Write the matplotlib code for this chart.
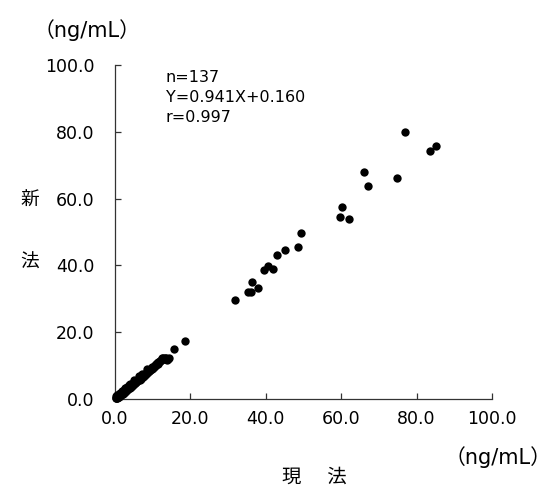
import matplotlib
matplotlib.use("Agg")
import matplotlib.pyplot as plt
from matplotlib.ticker import FixedLocator, FormatStrFormatter

plt.rcParams['font.family'] = ['DejaVu Sans', 'Noto Sans CJK JP']

# current method (x) vs new method (y), ng/mL
x_low = [0.2, 0.3, 0.4, 0.5, 0.5, 0.6, 0.7, 0.8, 0.9, 1.0,
         1.1, 1.2, 1.3, 1.4, 1.5, 1.6, 1.7, 1.8, 1.9, 2.0,
         2.1, 2.2, 2.4, 2.5, 2.6, 2.8, 2.9, 3.0, 3.1, 3.3,
         3.4, 3.5, 3.7, 3.8, 3.9, 4.0, 4.2, 4.3, 4.5, 4.6,
         4.8, 4.9, 5.0, 5.2, 5.3, 5.5, 5.6, 5.8, 5.9, 6.0,
         6.2, 6.3, 6.5, 6.6, 6.8, 6.9, 7.0, 7.2, 7.3, 7.5,
         7.6, 7.8, 7.9, 8.0, 8.2, 8.3, 8.5, 8.6, 8.8, 9.0,
         9.1, 9.3, 9.4, 9.6, 9.8, 9.9, 10.0, 10.2, 10.4, 10.5,
         10.7, 10.9, 11.0, 11.2, 11.4, 11.5, 11.7, 11.9, 12.0, 12.2,
         12.4, 12.6, 12.8, 13.0, 13.2, 13.4, 13.6, 13.8, 14.0, 14.3,
         0.3, 0.6, 1.0, 1.4, 1.8, 2.3, 2.7, 3.2, 3.6, 4.1,
         5.1, 6.4, 7.1, 8.4]
y_low = [0.3, 0.3, 0.5, 0.2, 0.6, 0.4, 0.7, 0.5, 0.8, 0.7,
         1.1, 0.9, 1.3, 1.1, 1.5, 1.2, 1.7, 1.4, 1.9, 1.6,
         2.0, 2.2, 1.9, 2.4, 2.2, 2.6, 2.4, 2.9, 2.6, 3.1,
         2.9, 3.3, 3.2, 3.6, 3.4, 3.8, 3.7, 4.1, 3.9, 4.4,
         4.2, 4.7, 4.4, 4.9, 4.8, 5.2, 5.0, 5.5, 5.3, 5.6,
         5.6, 6.0, 5.8, 6.3, 6.1, 6.6, 6.3, 6.8, 6.6, 7.0,
         6.9, 7.3, 7.2, 7.6, 7.5, 7.9, 7.8, 8.2, 8.0, 8.5,
         8.4, 8.8, 8.6, 9.1, 9.0, 9.5, 9.3, 9.7, 9.5, 10.1,
         9.9, 10.5, 10.3, 10.8, 10.6, 11.2, 11.0, 11.5, 11.3, 11.6,
         12.2, 11.9, 12.3, 12.0, 12.4, 11.9, 12.2, 11.6, 12.1, 12.3,
         0.8, 1.1, 1.5, 1.9, 2.4, 2.8, 3.2, 3.7, 4.1, 4.6,
         5.6, 6.9, 7.5, 8.9]
x_high = [15.6, 18.6,
          31.8, 35.3, 36.1, 36.3, 37.8, 39.5, 40.5, 42.0, 43.1, 45.1, 48.5, 49.3,
          59.7, 60.1, 62.2, 66.1, 67.0, 74.7, 77.0, 83.6, 85.1]
y_high = [15.1, 17.3,
          29.7, 32.0, 32.0, 34.9, 33.1, 38.7, 39.9, 39.0, 43.0, 44.7, 45.6, 49.8,
          54.4, 57.5, 53.8, 68.1, 63.7, 66.3, 79.9, 74.3, 75.7]

ticks = [0, 20, 40, 60, 80, 100]
stats_text = "n=137\nY=0.941X+0.160\nr=0.997"
unit = "（ng/mL）"

fig = plt.figure(figsize=(5.58, 4.91), dpi=100)
ax = fig.add_axes([0.2061, 0.1874, 0.6756, 0.6802])

ax.scatter(x_low + x_high, y_low + y_high, s=36, c='black',
           linewidths=0, clip_on=False, zorder=3)

ax.set_xlim(0, 100)
ax.set_ylim(0, 100)
ax.xaxis.set_major_locator(FixedLocator(ticks))
ax.yaxis.set_major_locator(FixedLocator(ticks))
ax.xaxis.set_major_formatter(FormatStrFormatter('%.1f'))
ax.yaxis.set_major_formatter(FormatStrFormatter('%.1f'))

for s in ['top', 'right']:
    ax.spines[s].set_visible(False)
for s in ['left', 'bottom']:
    ax.spines[s].set_linewidth(0.9)
    ax.spines[s].set_color('#333333')

ax.tick_params(direction='in', length=4, width=0.9, color='#333333',
               labelsize=12.5, labelcolor='black')
ax.tick_params(axis='x', pad=8)
ax.tick_params(axis='y', pad=15)

ax.text(0.135, 0.985, stats_text, transform=ax.transAxes, fontsize=11.5,
        va='top', ha='left', linespacing=1.4)

fig.text(0.156, 0.938, unit, fontsize=15, ha='center', va='center')
fig.text(0.893, 0.070, unit, fontsize=15, ha='center', va='center')
fig.text(0.563, 0.028, "現　 法", fontsize=14, ha='center', va='center')
fig.text(0.054, 0.593, "新", fontsize=13.5, ha='center', va='center')
fig.text(0.054, 0.466, "法", fontsize=13.5, ha='center', va='center')

fig.savefig("out.png", dpi=100)
